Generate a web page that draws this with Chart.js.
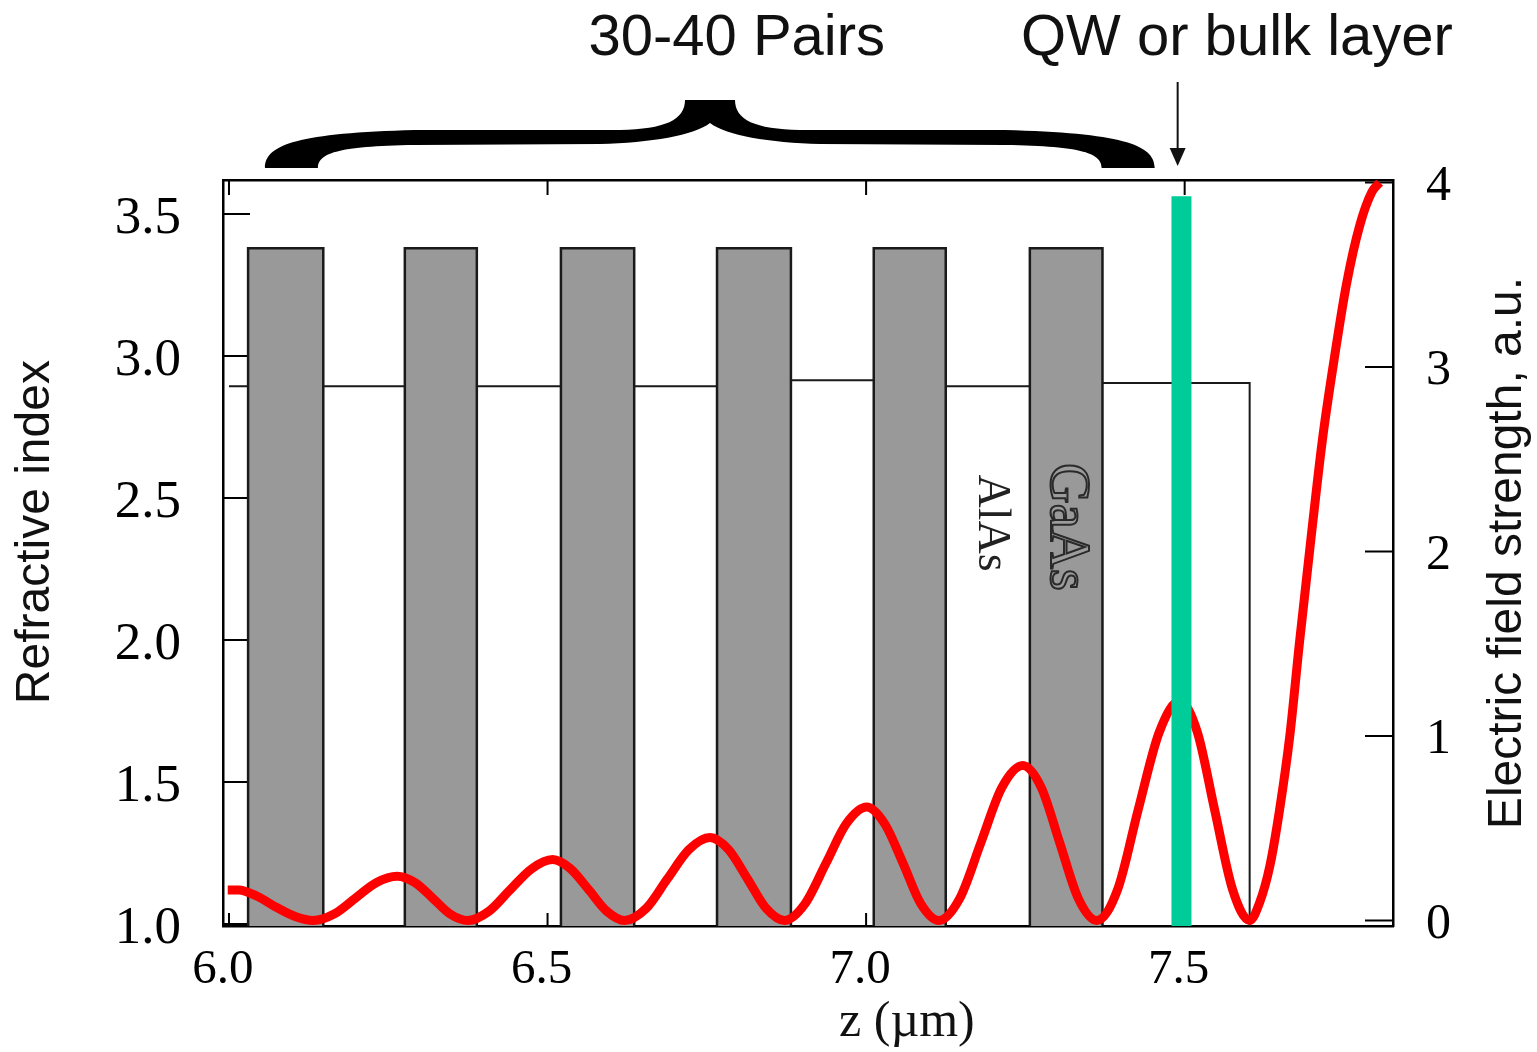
<!DOCTYPE html>
<html>
<head>
<meta charset="utf-8">
<title>Refractive index and field strength</title>
<script src="https://cdn.jsdelivr.net/npm/chart.js@4.4.1/dist/chart.umd.min.js"></script>
<style>
  html, body { margin: 0; padding: 0; background: #fff; }
  canvas { display: block; }
</style>
</head>
<body>
<canvas id="dbr" width="1537" height="1052"></canvas>
<script>
// axis ranges
const zMin = 5.9906, zMax = 7.827;
const nMin = 0.993, nMax = 3.62;
const eMin = -0.03, eMax = 4.014;
const zTicks = [6.0, 6.5, 7.0, 7.5];
const nTicks = [1.0, 1.5, 2.0, 2.5, 3.0, 3.5];
const eTicks = [0, 1, 2, 3, 4];

// GaAs layers (grey, high index)
const gaasStart = [6.030, 6.276, 6.521, 6.766, 7.012, 7.257];
const gaasEnd   = [6.148, 6.389, 6.636, 6.882, 7.125, 7.371];
const nGaAs = 3.38;

// AlAs layers (thin line between the GaAs layers)
const alasStart = [6.000, 6.148, 6.389, 6.636, 6.882, 7.125, 7.371];
const alasEnd   = [6.030, 6.276, 6.521, 6.766, 7.012, 7.257, 7.602];
const alasIndex = [2.894, 2.894, 2.894, 2.894, 2.915, 2.894, 2.905];

// QW or bulk layer
const qwZ = 7.495;
const qwTop = 3.563;

// electric field strength
const fieldZ = [5.998, 6.015, 6.045, 6.075, 6.105, 6.132,
  6.165, 6.198, 6.231, 6.264, 6.292, 6.320, 6.347, 6.375,
  6.408, 6.441, 6.475, 6.508, 6.536, 6.565, 6.593, 6.621,
  6.655, 6.688, 6.722, 6.755, 6.784, 6.814, 6.843, 6.872,
  6.904, 6.937, 6.969, 7.001, 7.029, 7.058, 7.086, 7.114,
  7.147, 7.180, 7.213, 7.246, 7.275, 7.304, 7.333, 7.362,
  7.395, 7.427, 7.460, 7.492, 7.520, 7.547, 7.575, 7.602,
  7.618, 7.634, 7.649, 7.665, 7.680, 7.696, 7.716, 7.735, 7.754, 7.775, 7.794, 7.806];
const fieldE = [0.165, 0.165, 0.13, 0.07, 0.02, 0,
  0.035, 0.12, 0.205, 0.24, 0.205, 0.12, 0.035, 0,
  0.05, 0.165, 0.28, 0.33, 0.28, 0.165, 0.05, 0,
  0.066, 0.225, 0.385, 0.45, 0.385, 0.225, 0.066, 0,
  0.09, 0.31, 0.525, 0.615, 0.525, 0.31, 0.09, 0,
  0.12, 0.42, 0.72, 0.84, 0.72, 0.42, 0.12, 0,
  0.17, 0.6, 1.02, 1.19, 1.02, 0.6, 0.17, 0,
  0.1, 0.3, 0.6, 1.0, 1.5, 2.0, 2.6, 3.05, 3.45, 3.77, 3.95, 4.0];

// where the notes sit
const braceFrom = 6.0565, braceTip = 6.755, braceTo = 7.453;
const pairsLabelZ = 6.797;
const qwLabelZ = 7.582;
const arrowZ = 7.489;
const zTitleAt = 7.064;
const nTitleAt = 2.38;
const alasLabel = {z: 7.196, n: 2.412};
const gaasLabel = {z: 7.313, n: 2.398};

const serif = "'Liberation Serif', 'Times New Roman', serif";
const sans = "'Liberation Sans', Arial, sans-serif";

let datasets = [];
datasets.push({
    label: 'QW', yAxisID: 'y', order: 0,
    data: [{x: qwZ, y: nMin}, {x: qwZ, y: qwTop}],
    borderColor: '#00cc99', borderWidth: 20, pointRadius: 0
});
datasets.push({
    label: 'Field', yAxisID: 'y2', order: 1,
    data: fieldZ.map((z, i) => ({x: z, y: fieldE[i]})),
    borderColor: '#ff0000', borderWidth: 9, pointRadius: 0,
    cubicInterpolationMode: 'monotone'
});
let alasPts = [];
alasStart.forEach((s, i) => {
    alasPts.push({x: s, y: alasIndex[i]}, {x: alasEnd[i], y: alasIndex[i]});
    if (i === alasStart.length - 1) alasPts.push({x: alasEnd[i], y: nMin});
    else alasPts.push({x: alasEnd[i], y: null});
});
datasets.push({
    label: 'AlAs', yAxisID: 'y', order: 2,
    data: alasPts, borderColor: '#1a1a1a', borderWidth: 2, pointRadius: 0, spanGaps: false
});
gaasStart.forEach((s, i) => {
    let e = gaasEnd[i];
    datasets.push({
        label: 'GaAs', yAxisID: 'y', order: 3,
        data: [{x: s, y: nMin}, {x: s, y: nGaAs}, {x: e, y: nGaAs}, {x: e, y: nMin}],
        fill: 'start', backgroundColor: '#999999',
        borderColor: '#1a1a1a', borderWidth: 2.5, pointRadius: 0
    });
});

// tick marks pointing into the plot
const innerTicks = {
    id: 'innerTicks',
    beforeDatasetsDraw(chart) {
        const {ctx, chartArea: a, scales} = chart;
        ctx.save();
        ctx.strokeStyle = '#000';
        ctx.lineWidth = 2;
        ctx.beginPath();
        zTicks.forEach(v => {
            let px = scales.x.getPixelForValue(v);
            ctx.moveTo(px, a.bottom); ctx.lineTo(px, a.bottom - 13);
            ctx.moveTo(px, a.top); ctx.lineTo(px, a.top + 15);
        });
        nTicks.forEach(v => {
            let py = scales.y.getPixelForValue(v);
            ctx.moveTo(a.left, py); ctx.lineTo(a.left + 27, py);
        });
        eTicks.forEach(v => {
            let py = scales.y2.getPixelForValue(v);
            ctx.moveTo(a.right, py); ctx.lineTo(a.right - 28, py);
        });
        ctx.stroke();
        ctx.restore();
    }
};

function drawBrace(ctx, xL, xM, xR, top) {
    const yTip = top - 80, yArm = top - 50, yArmLow = top - 36, yInner = top - 57, yFoot = top - 12;
    ctx.beginPath();
    ctx.moveTo(xL, yFoot);
    ctx.bezierCurveTo(xL, yArm + 14, xL + 35, yArm + 3, xL + 150, yArm);
    ctx.lineTo(xM - 90, yArm);
    ctx.bezierCurveTo(xM - 45, yArm - 1, xM - 25, yArm - 10, xM - 25, yTip);
    ctx.lineTo(xM + 25, yTip);
    ctx.bezierCurveTo(xM + 25, yArm - 10, xM + 45, yArm - 1, xM + 90, yArm);
    ctx.lineTo(xR - 150, yArm);
    ctx.bezierCurveTo(xR - 35, yArm + 3, xR, yArm + 14, xR, yFoot);
    ctx.lineTo(xR - 53, yFoot);
    ctx.bezierCurveTo(xR - 53, yArmLow + 10, xR - 70, yArmLow + 2, xR - 150, yArmLow + 1);
    ctx.lineTo(xM + 110, yArmLow);
    ctx.bezierCurveTo(xM + 60, yArmLow - 1, xM + 15, yInner + 12, xM, yInner);
    ctx.bezierCurveTo(xM - 15, yInner + 12, xM - 60, yArmLow - 1, xM - 110, yArmLow);
    ctx.lineTo(xL + 150, yArmLow + 1);
    ctx.bezierCurveTo(xL + 70, yArmLow + 2, xL + 53, yArmLow + 10, xL + 53, yFoot);
    ctx.closePath();
    ctx.fill();
}

function rotatedText(ctx, text, px, py, angle) {
    ctx.save();
    ctx.translate(px, py);
    ctx.rotate(angle);
    ctx.fillText(text, 0, 0);
    ctx.restore();
}

const notes = {
    id: 'notes',
    afterDraw(chart) {
        const {ctx, chartArea: a, scales: {x, y}} = chart;
        ctx.save();
        ctx.fillStyle = '#111';
        ctx.strokeStyle = '#111';
        ctx.textAlign = 'center';
        ctx.textBaseline = 'alphabetic';
        ctx.font = `58px ${sans}`;
        ctx.fillText('30-40 Pairs', x.getPixelForValue(pairsLabelZ), a.top - 125);
        ctx.fillText('QW or bulk layer', x.getPixelForValue(qwLabelZ), a.top - 125);

        // arrow to the QW layer
        let ax = x.getPixelForValue(arrowZ);
        ctx.lineWidth = 2;
        ctx.beginPath();
        ctx.moveTo(ax, a.top - 98); ctx.lineTo(ax, a.top - 30);
        ctx.stroke();
        ctx.beginPath();
        ctx.moveTo(ax - 8, a.top - 32); ctx.lineTo(ax + 8, a.top - 32); ctx.lineTo(ax, a.top - 14);
        ctx.closePath(); ctx.fill();

        ctx.fillStyle = '#000';
        drawBrace(ctx, x.getPixelForValue(braceFrom), x.getPixelForValue(braceTip), x.getPixelForValue(braceTo), a.top);

        // axis titles
        ctx.fillStyle = '#111';
        ctx.font = `50px ${serif}`;
        ctx.fillText('z (µm)', x.getPixelForValue(zTitleAt), 1036);
        ctx.font = `48px ${sans}`;
        ctx.textBaseline = 'middle';
        rotatedText(ctx, 'Refractive index', 36, y.getPixelForValue(nTitleAt), -Math.PI / 2);
        rotatedText(ctx, 'Electric field strength, a.u.', 1508, (a.top + a.bottom) / 2, -Math.PI / 2);

        // layer names
        ctx.font = `46px ${serif}`;
        ctx.fillStyle = '#222';
        rotatedText(ctx, 'AlAs', x.getPixelForValue(alasLabel.z), y.getPixelForValue(alasLabel.n), Math.PI / 2);
        ctx.save();
        ctx.translate(x.getPixelForValue(gaasLabel.z), y.getPixelForValue(gaasLabel.n));
        ctx.rotate(Math.PI / 2);
        ctx.font = `56px ${serif}`;
        ctx.fillStyle = '#9c9c9c';
        ctx.fillText('GaAs', 0, 0);
        ctx.strokeStyle = '#2a2a2a';
        ctx.lineWidth = 2;
        ctx.strokeText('GaAs', 0, 0);
        ctx.restore();
        ctx.restore();
    }
};

new Chart(document.getElementById('dbr'), {
    type: 'line',
    data: {datasets: datasets},
    options: {
        responsive: false,
        animation: false,
        layout: {padding: 0},
        plugins: {legend: {display: false}, tooltip: {enabled: false}},
        scales: {
            x: {
                type: 'linear', position: 'bottom', min: zMin, max: zMax,
                grid: {display: false},
                border: {color: '#000', width: 2.5},
                afterBuildTicks: s => { s.ticks = zTicks.map(v => ({value: v})); },
                afterFit: s => { s.height = 126; },
                ticks: {
                    font: {family: serif, size: 49}, color: '#000', padding: 7,
                    labelOffset: -6, maxRotation: 0,
                    callback: v => v.toFixed(1)
                }
            },
            x2: {
                type: 'linear', position: 'top', min: zMin, max: zMax,
                grid: {display: false},
                border: {color: '#000', width: 2.5},
                ticks: {display: false},
                afterFit: s => { s.height = 180; }
            },
            y: {
                type: 'linear', position: 'left', min: nMin, max: nMax,
                grid: {display: false},
                border: {color: '#000', width: 2.5},
                afterBuildTicks: s => { s.ticks = nTicks.map(v => ({value: v})); },
                afterFit: s => { s.width = 223; },
                ticks: {
                    font: {family: serif, size: 53}, color: '#000', padding: 34,
                    labelOffset: 5, callback: v => v.toFixed(1)
                }
            },
            y2: {
                type: 'linear', position: 'right', min: eMin, max: eMax,
                grid: {display: false},
                border: {color: '#000', width: 2.5},
                afterBuildTicks: s => { s.ticks = eTicks.map(v => ({value: v})); },
                afterFit: s => { s.width = 144; },
                ticks: {
                    font: {family: serif, size: 50}, color: '#000', padding: 25,
                    labelOffset: 4, callback: v => String(v)
                }
            }
        }
    },
    plugins: [innerTicks, notes]
});
</script>
</body>
</html>
